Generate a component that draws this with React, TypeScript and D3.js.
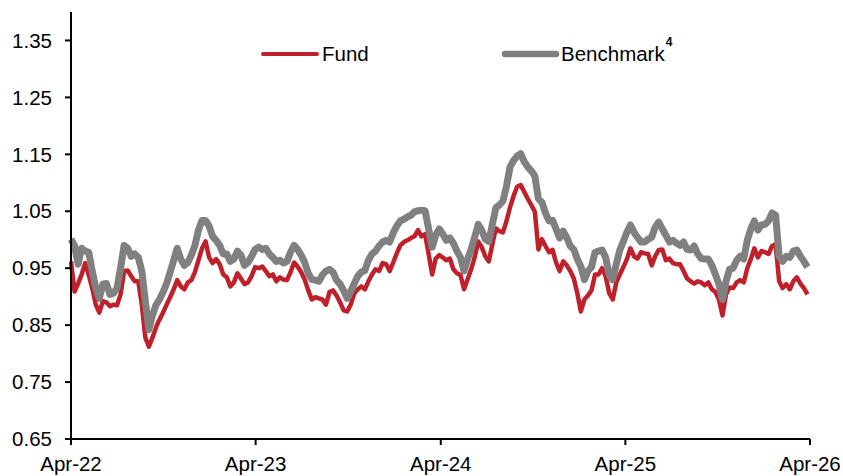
import React, { useEffect } from "react";
import * as d3 from "d3";

// weekly observations, starting 1 Apr 2022
const startDate = new Date(2022, 3, 1);

const fundValues = [
  0.962, 0.909, 0.923, 0.939, 0.959, 0.938, 0.915, 0.886, 0.872, 0.892,
  0.89, 0.883, 0.886, 0.885, 0.904, 0.945, 0.946, 0.936, 0.927, 0.927,
  0.886, 0.828, 0.812, 0.828, 0.846, 0.86, 0.872, 0.886, 0.899, 0.913,
  0.929, 0.918, 0.913, 0.925, 0.929, 0.943, 0.964, 0.985, 0.997, 0.969,
  0.959, 0.966, 0.957, 0.939, 0.934, 0.918, 0.925, 0.941, 0.932, 0.922,
  0.925, 0.936, 0.952, 0.95, 0.953, 0.945, 0.936, 0.939, 0.927, 0.934,
  0.93, 0.929, 0.943, 0.96, 0.953, 0.943, 0.93, 0.911, 0.895, 0.899,
  0.897, 0.895, 0.886, 0.908, 0.911, 0.902, 0.89, 0.876, 0.874, 0.886,
  0.906, 0.913, 0.918, 0.913, 0.927, 0.939, 0.948, 0.945, 0.959, 0.957,
  0.945, 0.96, 0.976, 0.99, 0.996, 0.999, 1.003, 1.006, 1.017, 1.006,
  1.01, 0.975, 0.939, 0.967, 0.973, 0.969, 0.964, 0.967, 0.948, 0.941,
  0.938, 0.913, 0.93, 0.948, 0.969, 0.997, 0.987, 0.971, 0.962, 0.992,
  1.02, 1.015, 1.013, 1.033, 1.057, 1.077, 1.093, 1.096, 1.084, 1.072,
  1.061, 1.049, 0.983, 1.001, 0.989, 0.978, 0.982, 0.96, 0.945, 0.962,
  0.955, 0.945, 0.932, 0.906, 0.874, 0.895, 0.902, 0.911, 0.939, 0.939,
  0.95, 0.936, 0.906, 0.895, 0.925, 0.939, 0.952, 0.966, 0.985, 0.971,
  0.967, 0.978, 0.976, 0.975, 0.955, 0.971, 0.982, 0.983, 0.964, 0.967,
  0.959, 0.957, 0.957, 0.945, 0.932, 0.927, 0.923, 0.927, 0.925, 0.92,
  0.925, 0.913, 0.908, 0.895, 0.867, 0.904, 0.916, 0.915, 0.925, 0.929,
  0.925, 0.95, 0.966, 0.985, 0.969, 0.98, 0.978, 0.975, 0.989, 0.992,
  0.927, 0.915, 0.922, 0.913, 0.927, 0.934, 0.923, 0.915, 0.904,
];

const benchmarkValues = [
  1.001, 0.99, 0.957, 0.985, 0.98, 0.978, 0.945, 0.915, 0.897, 0.922,
  0.923, 0.904, 0.906, 0.915, 0.95, 0.99, 0.985, 0.971, 0.975, 0.969,
  0.945, 0.892, 0.842, 0.867, 0.885, 0.895, 0.908, 0.923, 0.943, 0.964,
  0.985, 0.966, 0.955, 0.96, 0.973, 0.99, 1.017, 1.034, 1.034, 1.024,
  1.006, 0.999, 0.99, 0.975, 0.975, 0.962, 0.966, 0.98, 0.973, 0.955,
  0.96, 0.971, 0.983, 0.987, 0.983, 0.985, 0.975, 0.969, 0.962, 0.964,
  0.959, 0.962, 0.978, 0.99, 0.983, 0.973, 0.96, 0.941, 0.93, 0.929,
  0.927, 0.938, 0.945, 0.948, 0.943, 0.929, 0.922, 0.911, 0.897, 0.909,
  0.923, 0.936, 0.943, 0.946, 0.964, 0.975, 0.98, 0.989, 0.996, 0.999,
  0.996, 1.012, 1.024, 1.033, 1.036, 1.04, 1.043, 1.049, 1.051, 1.052,
  1.051, 1.019, 0.987, 1.008, 1.019, 1.01, 0.999, 1.003, 0.994, 0.98,
  0.969, 0.945, 0.966, 0.983, 1.004, 1.027, 1.017, 1.001, 0.997, 1.027,
  1.056, 1.061, 1.068, 1.094, 1.128, 1.139, 1.147, 1.151, 1.137, 1.128,
  1.121, 1.112, 1.072, 1.066, 1.047, 1.033, 1.034, 1.019, 1.003, 1.015,
  1.004, 0.989, 0.983, 0.966, 0.953, 0.93, 0.945, 0.952, 0.978, 0.98,
  0.982, 0.969, 0.938, 0.93, 0.957, 0.982, 0.997, 1.013, 1.026, 1.013,
  1.004, 0.996, 0.996, 1.001, 1.004, 1.022, 1.031, 1.019, 1.008, 0.996,
  0.999, 0.994, 0.99, 0.996, 0.983, 0.982, 0.989, 0.975, 0.967, 0.966,
  0.966, 0.955, 0.939, 0.922, 0.895, 0.927, 0.948, 0.95, 0.964, 0.971,
  0.966, 0.999, 1.019, 1.033, 1.017, 1.026, 1.027, 1.033, 1.047, 1.043,
  0.971, 0.962, 0.971, 0.969, 0.98, 0.982, 0.971, 0.962, 0.952,
];

const yTicks = [0.65, 0.75, 0.85, 0.95, 1.05, 1.15, 1.25, 1.35];
const xTicks = [
  new Date(2022, 3, 1),
  new Date(2023, 3, 1),
  new Date(2024, 3, 1),
  new Date(2025, 3, 1),
  new Date(2026, 3, 1),
];
const seriesNames = ["Fund", "Benchmark"];

const width = 843;
const height = 476;
const marginLeft = 71;
const marginRight = 33;
const marginTop = 12;
const marginBottom = 37;

const fundColor = "#C0202A";
const benchColor = "#808080";
const font = "Liberation Sans, Arial, sans-serif";

export default function App() {
  useEffect(() => {
    document.body.style.margin = "0";
  }, []);

  const x = d3
    .scaleTime()
    .domain([xTicks[0], xTicks[xTicks.length - 1]])
    .range([marginLeft, width - marginRight]);
  const y = d3
    .scaleLinear()
    .domain([0.65, 1.4])
    .range([height - marginBottom, marginTop]);

  const dates = fundValues.map((_, i) => d3.timeWeek.offset(startDate, i));

  const line = d3
    .line<number>()
    .x((_, i) => x(dates[i]))
    .y((d) => y(d));

  const baseY = height - marginBottom;

  return (
    <svg width={width} height={height} style={{ display: "block" }}>
      <rect width={width} height={height} fill="#fff" />

      {/* series */}
      <path
        d={line(fundValues) || ""}
        fill="none"
        stroke={fundColor}
        strokeWidth={4.5}
        strokeLinejoin="round"
      />
      <path
        d={line(benchmarkValues) || ""}
        fill="none"
        stroke={benchColor}
        strokeWidth={7}
        strokeLinejoin="round"
      />

      {/* y axis */}
      <line x1={marginLeft} x2={marginLeft} y1={marginTop} y2={baseY} stroke="#000" strokeWidth={2} />
      {yTicks.map((t) => (
        <g key={t}>
          <line x1={marginLeft - 6} x2={marginLeft} y1={y(t)} y2={y(t)} stroke="#000" strokeWidth={2} />
          <text
            x={marginLeft - 19}
            y={y(t)}
            dy="0.35em"
            textAnchor="end"
            fontFamily={font}
            fontSize={20.5}
            fill="#000"
          >
            {t.toFixed(2)}
          </text>
        </g>
      ))}

      {/* x axis */}
      <line x1={marginLeft} x2={width - marginRight} y1={baseY} y2={baseY} stroke="#000" strokeWidth={2} />
      {xTicks.map((t) => (
        <g key={t.getTime()}>
          <line x1={x(t)} x2={x(t)} y1={baseY} y2={baseY + 6} stroke="#000" strokeWidth={2} />
          <text
            x={x(t)}
            y={baseY + 32}
            textAnchor="middle"
            fontFamily={font}
            fontSize={20.5}
            fill="#000"
          >
            {d3.timeFormat("%b-%y")(t)}
          </text>
        </g>
      ))}

      {/* legend */}
      <line x1={263} x2={317} y1={54} y2={54} stroke={fundColor} strokeWidth={4} strokeLinecap="round" />
      <text x={322} y={61} fontFamily={font} fontSize={20.5} fill="#000">
        {seriesNames[0]}
      </text>
      <line x1={505} x2={556} y1={54} y2={54} stroke={benchColor} strokeWidth={6.5} strokeLinecap="round" />
      <text x={561} y={61} fontFamily={font} fontSize={20.5} fill="#000">
        {seriesNames[1]}
        <tspan dx={1} dy={-15} fontSize={12} fontWeight="bold">
          4
        </tspan>
      </text>
    </svg>
  );
}
